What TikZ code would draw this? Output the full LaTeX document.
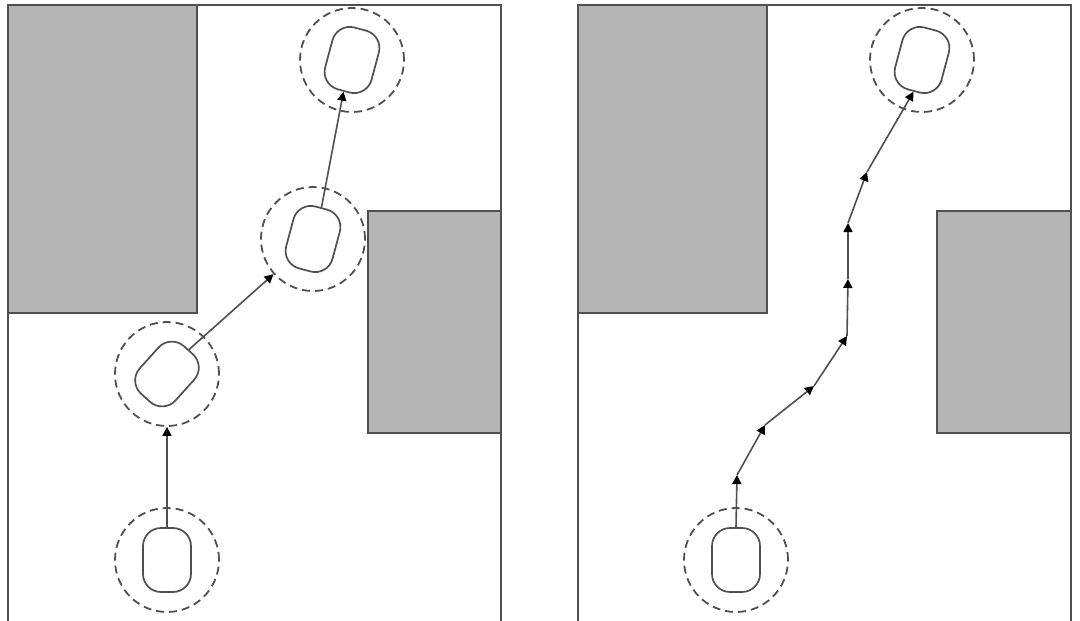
\documentclass[tikz,border=0pt]{standalone}
\usetikzlibrary{arrows.meta}
\definecolor{ink}{HTML}{505050}
\definecolor{obst}{HTML}{B4B4B4}
\tikzset{
  frameline/.style={draw=ink, line width=2pt},
  obstacle/.style={draw=ink, fill=obst, line width=2pt},
  robot/.style={draw=ink, line width=1.7pt, rectangle, rounded corners=18pt, minimum width=48pt, minimum height=64pt, inner sep=0pt},
  zone/.style={draw=ink, line width=1.8pt, circle, dash pattern=on 8pt off 5pt, minimum size=104pt, inner sep=0pt},
  move/.style={draw=ink, line width=1.6pt, -{Triangle[length=9pt,width=9pt,color=black]}},
}
\begin{document}
\begin{tikzpicture}[x=1pt,y=-1pt]
\useasboundingbox[fill=white] (0,0) rectangle (1080,621);
% left panel
\draw[frameline] (8,621) -- (8,5) -- (501,5) -- (501,621);
\draw[obstacle] (8,5) rectangle (197,313);
\draw[obstacle] (368,211) rectangle (501,433);
% right panel
\draw[frameline] (578,621) -- (578,5) -- (1071,5) -- (1071,621);
\draw[obstacle] (578,5) rectangle (767,313);
\draw[obstacle] (937,211) rectangle (1071,433);

% left panel robots
\node[zone] (cA) at (167,560) {};
\node[robot] (rA) at (167,560) {};
\node[zone] (cB) at (167,374) {};
\node[robot, rotate=-42] (rB) at (167,374) {};
\node[zone] (cC) at (313,239) {};
\node[robot, rotate=-15] (rC) at (313,239) {};
\node[zone] (cD) at (352,60) {};
\node[robot, rotate=-15] (rD) at (352,60) {};

\draw[move] (rA.north) -- (cB.south);
\draw[move] (rB.north) -- (cC);
\draw[move] (rC.north) -- (rD.south);

% right panel robots
\node[zone] (cE) at (736,560) {};
\node[robot] (rE) at (736,560) {};
\node[zone] (cF) at (922,60) {};
\node[robot, rotate=-15] (rF) at (922,60) {};

\coordinate (w1) at (737,475);
\coordinate (w2) at (765,425);
\coordinate (w3) at (814,386);
\coordinate (w4) at (847,336);
\coordinate (w5) at (848,279);
\coordinate (w6) at (848,223);
\coordinate (w7) at (867,172);

\draw[move] (rE.north) -- (w1);
\draw[move] (w1) -- (w2);
\draw[move] (w2) -- (w3);
\draw[move] (w3) -- (w4);
\draw[move] (w4) -- (w5);
\draw[move] (w5) -- (w6);
\draw[move] (w6) -- (w7);
\draw[move] (w7) -- (rF.south);
\end{tikzpicture}
\end{document}
